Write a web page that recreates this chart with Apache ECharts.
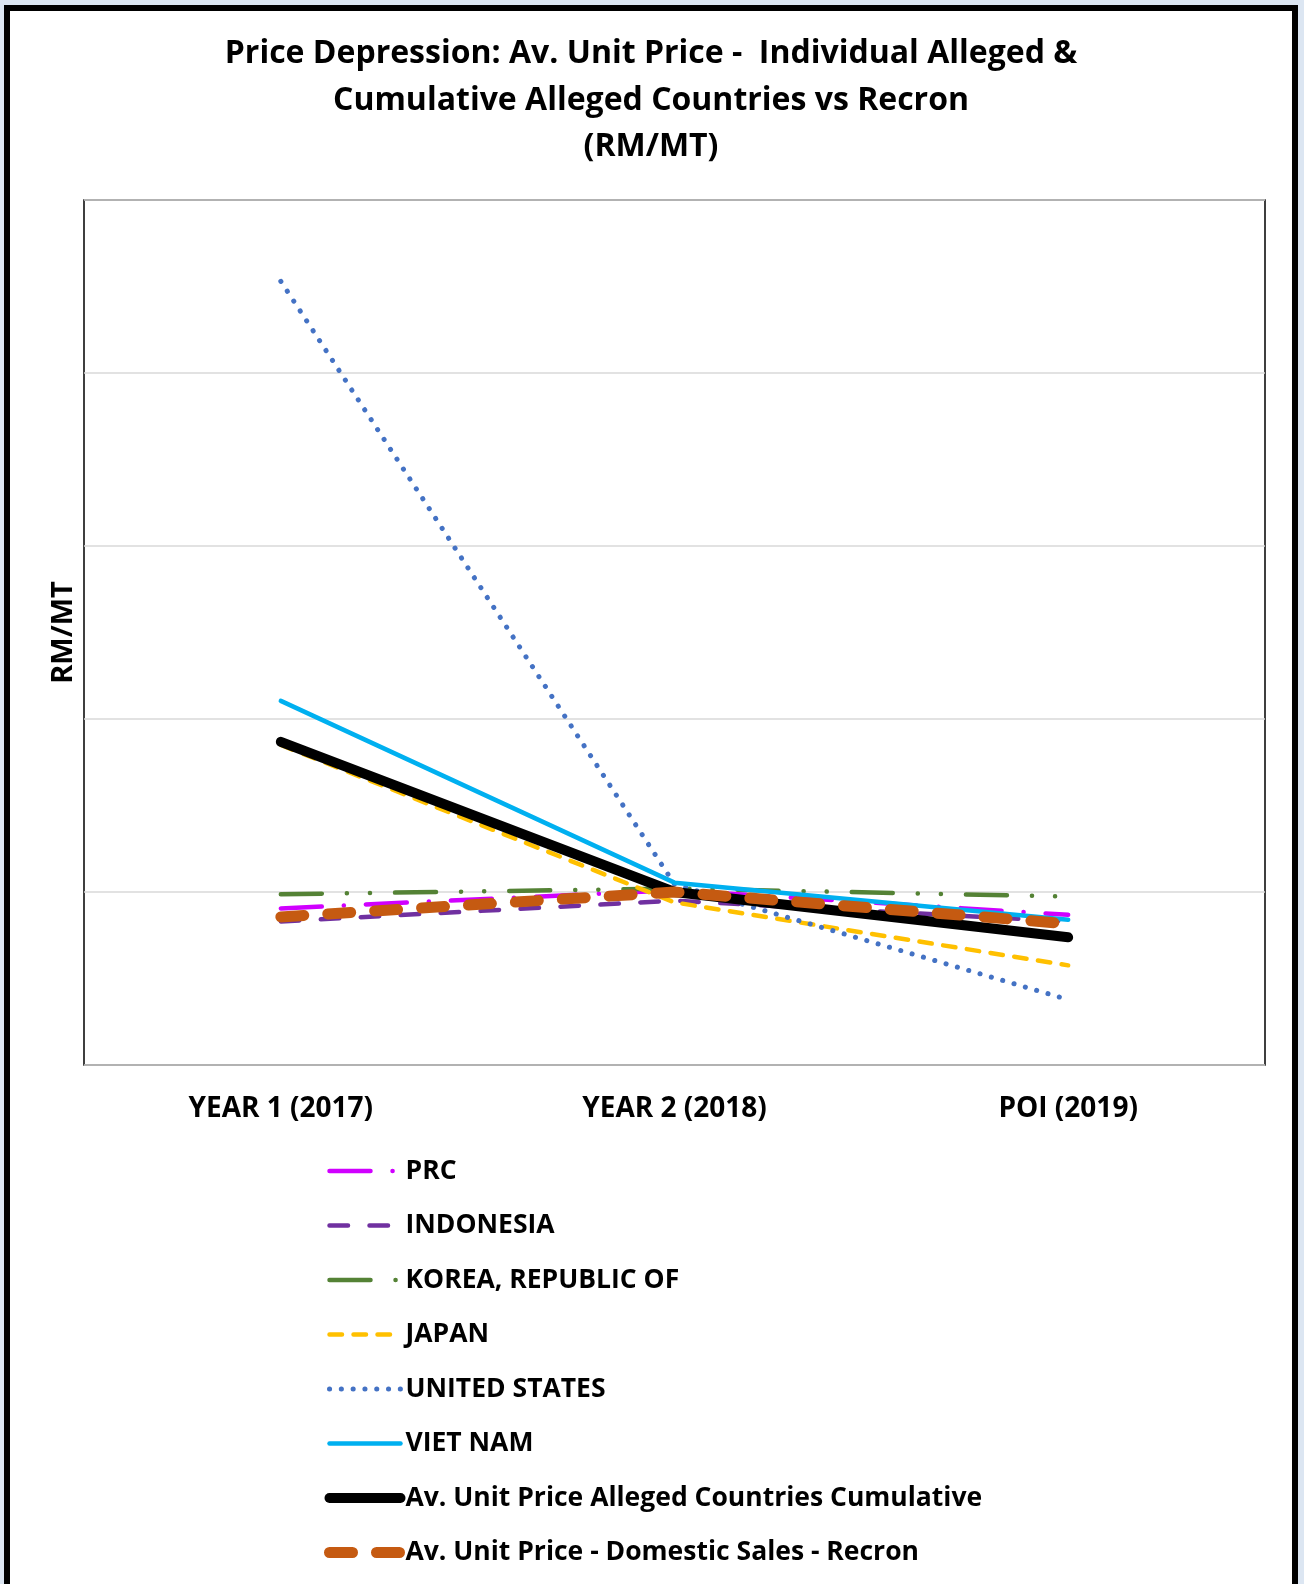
<!DOCTYPE html>
<html>
<head>
<meta charset="utf-8">
<script src="https://cdn.jsdelivr.net/npm/echarts@6/dist/echarts.min.js"></script>
<style>
  html, body { margin: 0; padding: 0; background: #dce6f2; }
  #frame { position: absolute; left: 4px; top: 5px; width: 1282px; height: 1600px; background: #fff; border: 6px solid #000; border-bottom: none; }
  #chart { position: absolute; left: 0; top: 0; width: 1304px; height: 1584px; }
</style>
</head>
<body>
<div id="frame"></div>
<div id="chart"></div>
<script>
const categories = ['YEAR 1 (2017)', 'YEAR 2 (2018)', 'POI (2019)'];
const prc = [0.905, 1.01, 0.868];
const indonesia = [0.83, 0.95, 0.83];
const korea = [0.987, 1.02, 0.974];
const japan = [1.85, 0.94, 0.576];
const unitedStates = [4.53, 1.045, 0.378];
const vietNam = [2.105, 1.054, 0.839];
const cumulative = [1.868, 1.0, 0.738];
const recron = [0.856, 1.0, 0.816];
const seriesNames = ['PRC', 'INDONESIA', 'KOREA, REPUBLIC OF', 'JAPAN', 'UNITED STATES', 'VIET NAM',
  'Av. Unit Price Alleged Countries Cumulative', 'Av. Unit Price - Domestic Sales - Recron'];

const FONT = 'Open Sans';
const widths = [4.5, 4.5, 4.5, 4.5, 5, 4.5, 10, 11];
function mk(i, data, color, type) {
  return {
    name: seriesNames[i], type: 'line', data, showSymbol: false, symbol: 'none', animation: false,
    lineStyle: { color, width: widths[i], type, cap: 'round', join: 'round' },
    itemStyle: { color }
  };
}
const chart = echarts.init(document.getElementById('chart'));
chart.setOption({
  animation: false,
  title: {
    text: 'Price Depression: Av. Unit Price -  Individual Alleged &\nCumulative Alleged Countries vs Recron\n(RM/MT)',
    left: 646, top: 26, textAlign: 'center',
    textStyle: { fontFamily: FONT, fontWeight: 'bold', fontSize: 32, lineHeight: 46.5, color: '#000' }
  },
  grid: { left: 84, right: 39, top: 200, bottom: 519, show: true, borderColor: '#000', borderWidth: 1.5, backgroundColor: 'transparent' },
  xAxis: {
    type: 'category', data: categories, boundaryGap: true,
    axisLine: { show: false }, axisTick: { show: false },
    axisLabel: { margin: 30, fontFamily: FONT, fontWeight: 'bold', fontSize: 28, color: '#000' }
  },
  yAxis: {
    type: 'value', min: 0, max: 5, interval: 1,
    name: 'RM/MT', nameLocation: 'middle', nameGap: 6,
    nameTextStyle: { fontFamily: FONT, fontWeight: 'bold', fontSize: 29, color: '#000' },
    axisLine: { show: false }, axisTick: { show: false }, axisLabel: { show: false },
    splitLine: { show: true, lineStyle: { color: '#d9d9d9', width: 1.5 } }
  },
  legend: {
    orient: 'vertical', left: 319, top: 1151, itemWidth: 71, itemHeight: 14, itemGap: 24.5,
    data: seriesNames.map((n, i) => ({ name: n, lineStyle: { width: widths[i], cap: 'round' } })),
    itemStyle: { color: 'transparent', borderColor: 'transparent', borderWidth: 0 },
    textStyle: { fontFamily: FONT, fontWeight: 'bold', fontSize: 26.5, color: '#000', lineHeight: 30 }
  },
  series: [
    mk(0, prc, '#d000ff', [41, 22, 0.1, 22]),
    mk(1, indonesia, '#7030a0', [18.5, 21.5]),
    mk(2, korea, '#548235', [41, 25, 0.1, 23, 0.1, 25]),
    mk(3, japan, '#ffc000', [12.5, 11.5]),
    mk(4, unitedStates, '#4472c4', [0.1, 11.7]),
    mk(5, vietNam, '#00b0f0', 'solid'),
    mk(6, cumulative, '#000000', 'solid'),
    mk(7, recron, '#c55a11', [23, 24])
  ]
});
</script>
</body>
</html>
